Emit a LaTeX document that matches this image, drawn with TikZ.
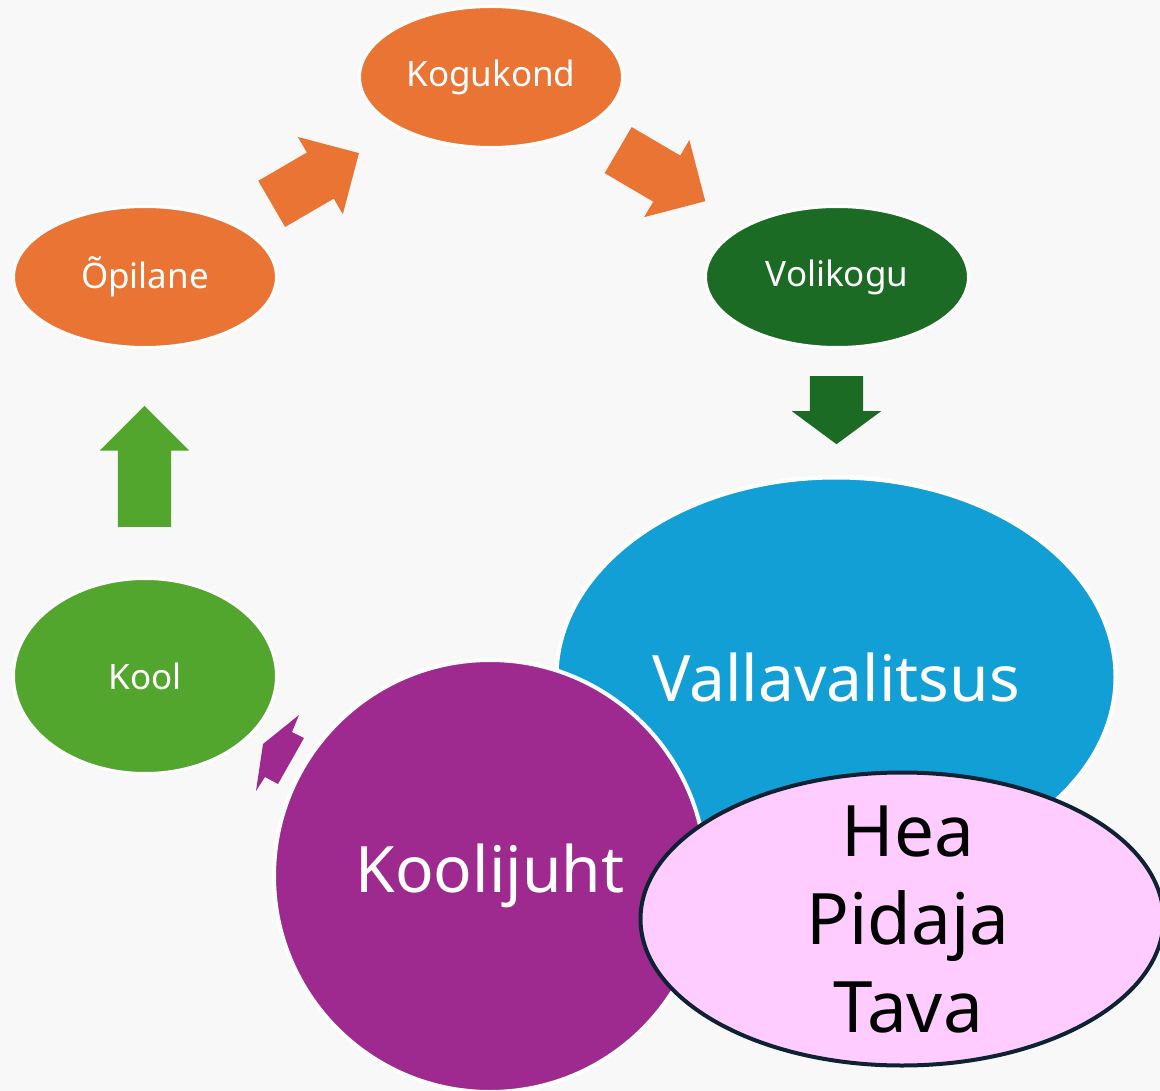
\documentclass[tikz,border=0pt]{standalone}
\usepackage{fontspec}
\setmainfont{Noto Sans}
\usetikzlibrary{shapes.geometric,shapes.arrows}
\definecolor{taust}{HTML}{F8F8F8}
\definecolor{oranz}{HTML}{EA7433}
\definecolor{tumeroheline}{HTML}{1B6B25}
\definecolor{heleroheline}{HTML}{52A62E}
\definecolor{sinine}{HTML}{129FD5}
\definecolor{lilla}{HTML}{9E2A8F}
\definecolor{roosa}{HTML}{FFCCFF}
\definecolor{serv}{HTML}{0E2234}
\begin{document}
\begin{tikzpicture}[x=1pt,y=-1pt]
  \tikzstyle{mull}=[ellipse,draw=white,line width=3pt,text=white,inner sep=0pt,font=\fontsize{35}{42}\selectfont]
  \tikzstyle{suur}=[mull,line width=4pt,font=\fontsize{64}{76}\selectfont]
  \tikzset{nool/.style={single arrow,draw=none,inner xsep=0pt,inner ysep=26.5pt,anchor=tail,single arrow head indent=0pt,single arrow head extend=18pt}}
  \useasboundingbox (0,0) rectangle (1160,1091);
  \clip (0,0) rectangle (1160,1091);
  \fill[taust] (0,0) rectangle (1160,1091);
  % ringi sõlmed
  \node[mull,fill=oranz,minimum width=263pt,minimum height=141pt] (kogukond) at (491,77) {Kogukond};
  \node[mull,fill=oranz,minimum width=263pt,minimum height=141pt] (opilane) at (145,277) {Õpilane};
  \node[mull,fill=tumeroheline,minimum width=263pt,minimum height=141pt] (volikogu) at (837,277) {Volikogu};
  \node[mull,fill=heleroheline,minimum width=263pt,minimum height=195pt] (kool) at (145,676) {Kool};
  % nooled
  \coordinate (t1) at (271.5,204);
  \coordinate (t2) at (618,150);
  \coordinate (t3) at (836.5,376);
  \coordinate (t4) at (144.5,527);
  \node[nool,fill=oranz,minimum height=101pt,rotate=30.2] (n1) at (t1) {};
  \node[nool,fill=oranz,minimum height=101pt,rotate=-30.4] (n2) at (t2) {};
  \node[nool,fill=tumeroheline,minimum height=68pt,single arrow tip angle=107,rotate=-90] (n3) at (t3) {};
  \node[nool,fill=heleroheline,minimum height=121pt,rotate=90] (n4) at (t4) {};
  \fill[lilla] (299,715) -- (292,732) -- (304,738) -- (278,784) -- (265,777) -- (256,791) -- (263,744) -- cycle;
  % suured sõlmed
  \node[suur,fill=sinine,minimum width=559pt,minimum height=399pt] (vallavalitsus) at (836,677) {Vallavalitsus};
  \node[suur,circle,fill=lilla,minimum size=432pt] (koolijuht) at (490,876) {Koolijuht};
  \node[ellipse,draw=serv,fill=roosa,line width=4pt,minimum width=523pt,minimum height=293pt] (tava) at (902,919) {};
  \node[align=center,font=\fontsize{71}{88}\selectfont] (tavatekst) at (908,920) {Hea\\Pidaja\\Tava};
\end{tikzpicture}
\end{document}
